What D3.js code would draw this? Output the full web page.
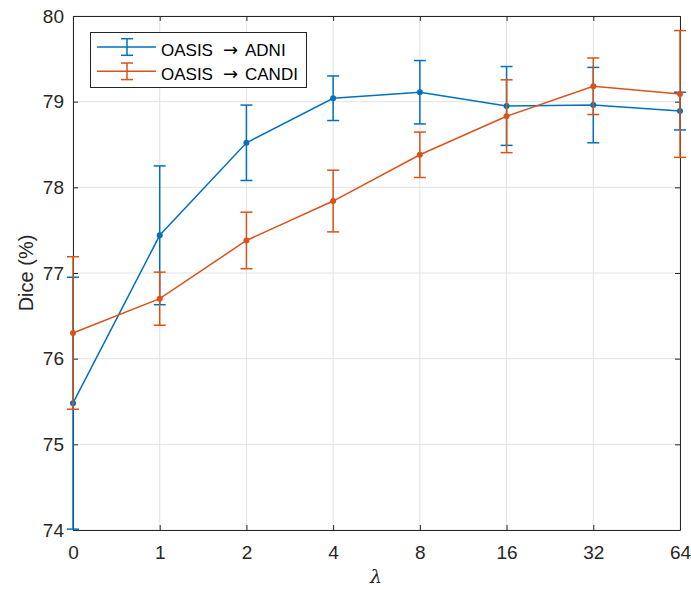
<!DOCTYPE html>
<html>
<head>
<meta charset="utf-8">
<script src="https://cdn.jsdelivr.net/npm/d3@7"></script>
<style>
  body { margin: 0; background: #fff; }
  text { font-family: "Liberation Sans", Arial, sans-serif; }
</style>
</head>
<body>
<svg id="chart" width="691" height="590"></svg>
<script>
// lambda values (equally spaced categories)
const lambdas = ["0", "1", "2", "4", "8", "16", "32", "64"];
const adniMean = [75.48, 77.44, 78.52, 79.04, 79.11, 78.95, 78.96, 78.89];
const adniErr  = [1.47, 0.81, 0.44, 0.26, 0.37, 0.46, 0.44, 0.22];
const candiMean = [76.30, 76.70, 77.38, 77.84, 78.38, 78.83, 79.18, 79.09];
const candiErr  = [0.89, 0.31, 0.33, 0.36, 0.265, 0.425, 0.33, 0.74];
const yTicks = [74, 75, 76, 77, 78, 79, 80];

const mLeft = 73, mRight = 680, mTop = 16, mBottom = 530;
const axisColor = "#262626";

const svg = d3.select("#chart");

const x = d3.scalePoint().domain(lambdas).range([mLeft, mRight]);
const y = d3.scaleLinear().domain([74, 80]).range([mBottom, mTop]);

// grid
svg.append("g").selectAll("line").data(lambdas).enter().append("line")
  .attr("x1", d => x(d)).attr("x2", d => x(d))
  .attr("y1", mTop).attr("y2", mBottom)
  .attr("stroke", "#e3e3e3").attr("stroke-width", 1);
svg.append("g").selectAll("line").data(yTicks).enter().append("line")
  .attr("x1", mLeft).attr("x2", mRight)
  .attr("y1", d => y(d)).attr("y2", d => y(d))
  .attr("stroke", "#e3e3e3").attr("stroke-width", 1);

// axes
const xAxis = d3.axisBottom(x).tickSizeInner(-5).tickSizeOuter(0).tickPadding(16);
const yAxis = d3.axisLeft(y).tickValues(yTicks).tickFormat(d3.format("d"))
  .tickSizeInner(-5).tickSizeOuter(0).tickPadding(9);

svg.append("g").attr("transform", `translate(0,${mBottom})`).call(xAxis);
svg.append("g").attr("transform", `translate(${mLeft},0)`).call(yAxis);
svg.append("g").attr("transform", `translate(0,${mTop})`)
  .call(d3.axisTop(x).tickSizeInner(-5).tickSizeOuter(0).tickFormat(""));
svg.append("g").attr("transform", `translate(${mRight},0)`)
  .call(d3.axisRight(y).tickValues(yTicks).tickSizeInner(-5).tickSizeOuter(0).tickFormat(""));

svg.selectAll(".domain").attr("stroke", axisColor).attr("stroke-width", 1);
svg.selectAll(".tick line").attr("stroke", axisColor);
svg.selectAll(".tick text").attr("fill", axisColor).style("font-size", "19px")
  .style("font-family", "Liberation Sans, Arial, sans-serif");

// clip region for the data
svg.append("clipPath").attr("id", "clip").append("rect")
  .attr("x", mLeft - 10).attr("y", mTop).attr("width", mRight - mLeft + 20).attr("height", mBottom - mTop + 1);

const series = [
  {name: "ADNI", mean: adniMean, err: adniErr, color: "#0072BD"},
  {name: "CANDI", mean: candiMean, err: candiErr, color: "#D95319"}
];

const plot = svg.append("g").attr("clip-path", "url(#clip)");
const line = d3.line().x((d, i) => x(lambdas[i])).y(d => y(d));
const capW = 6;

series.forEach(s => {
  const g = plot.append("g");
  g.append("path").datum(s.mean).attr("d", line)
    .attr("fill", "none").attr("stroke", s.color).attr("stroke-width", 1.5);
  const eb = g.selectAll("g.eb").data(s.mean).enter().append("g")
    .attr("stroke", s.color).attr("stroke-width", 1.5);
  eb.append("line")
    .attr("x1", (d, i) => x(lambdas[i])).attr("x2", (d, i) => x(lambdas[i]))
    .attr("y1", (d, i) => y(d - s.err[i])).attr("y2", (d, i) => y(d + s.err[i]));
  eb.append("line")
    .attr("x1", (d, i) => x(lambdas[i]) - capW).attr("x2", (d, i) => x(lambdas[i]) + capW)
    .attr("y1", (d, i) => y(d + s.err[i])).attr("y2", (d, i) => y(d + s.err[i]));
  eb.append("line")
    .attr("x1", (d, i) => x(lambdas[i]) - capW).attr("x2", (d, i) => x(lambdas[i]) + capW)
    .attr("y1", (d, i) => y(d - s.err[i])).attr("y2", (d, i) => y(d - s.err[i]));
  g.selectAll("circle").data(s.mean).enter().append("circle")
    .attr("cx", (d, i) => x(lambdas[i])).attr("cy", d => y(d))
    .attr("r", 3).attr("fill", s.color);
});

// axis labels
svg.append("text").attr("x", 376).attr("y", 583).attr("text-anchor", "middle")
  .style("font-size", "19px").style("font-style", "italic").attr("fill", axisColor)
  .style("font-family", "DejaVu Serif, serif").text("λ");
svg.append("text").attr("transform", `translate(33,${(mTop + mBottom) / 2}) rotate(-90)`)
  .attr("text-anchor", "middle").style("font-size", "20px").attr("fill", axisColor)
  .text("Dice (%)");

// legend
const lg = svg.append("g");
lg.append("rect").attr("x", 90.5).attr("y", 32.5).attr("width", 216).attr("height", 55)
  .attr("fill", "#fff").attr("stroke", axisColor).attr("stroke-width", 1);
series.forEach((s, i) => {
  const ly = 47 + i * 24.3;
  const it = lg.append("g").attr("stroke", s.color).attr("stroke-width", 1.5);
  it.append("line").attr("x1", 97).attr("x2", 156).attr("y1", ly).attr("y2", ly);
  it.append("line").attr("x1", 127).attr("x2", 127).attr("y1", ly - 8.3).attr("y2", ly + 8.3);
  it.append("line").attr("x1", 121).attr("x2", 133).attr("y1", ly - 8.3).attr("y2", ly - 8.3);
  it.append("line").attr("x1", 121).attr("x2", 133).attr("y1", ly + 8.3).attr("y2", ly + 8.3);
  const t = lg.append("text").attr("y", ly + 8.5)
    .style("font-size", "17px").attr("fill", "#000");
  t.append("tspan").attr("x", 161).text("OASIS");
  t.append("tspan").attr("x", 223).style("font-family", "DejaVu Sans, sans-serif")
    .style("font-size", "18px").text("→");
  t.append("tspan").attr("x", 245).text(s.name);
});
</script>
</body>
</html>
